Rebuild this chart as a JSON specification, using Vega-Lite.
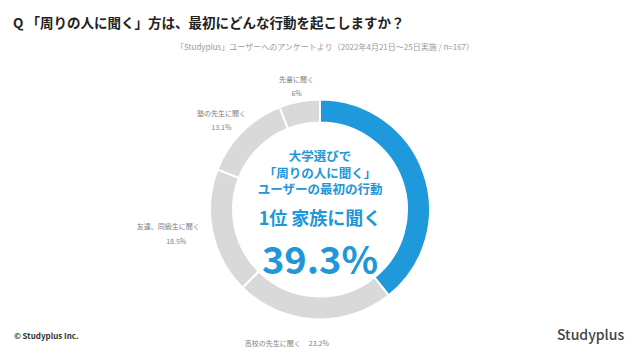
{
  "$schema": "https://vega.github.io/schema/vega-lite/v6.json",
  "width": 640,
  "height": 301,
  "autosize": {"type": "none"},
  "padding": {"top": 59, "left": 0, "right": 0, "bottom": 0},
  "background": "white",
  "config": {"view": {"stroke": null}, "font": "Noto Sans CJK JP", "text": {"font": "Noto Sans CJK JP"}},
  "title": {
    "text": "Q 「周りの人に聞く」方は、最初にどんな行動を起こしますか？",
    "anchor": "start",
    "frame": "group",
    "dx": 13,
    "fontSize": 13.5,
    "fontWeight": "bold",
    "color": "#222222",
    "offset": 13,
    "font": "Noto Sans CJK JP"
  },
  "data": {
    "values": [
      {"name": "家族に聞く", "value": 39.3, "pctLabel": "39.3%", "order": 1},
      {"name": "高校の先生に聞く", "value": 23.2, "pctLabel": "23.2%", "order": 2},
      {"name": "友達、同級生に聞く", "value": 18.5, "pctLabel": "18.5%", "order": 3},
      {"name": "塾の先生に聞く", "value": 13.1, "pctLabel": "13.1%", "order": 4},
      {"name": "先輩に聞く", "value": 6, "pctLabel": "6%", "order": 5}
    ]
  },
  "layer": [
    {
      "mark": {"type": "arc", "outerRadius": 110, "innerRadius": 87, "stroke": "white", "strokeWidth": 2},
      "encoding": {
        "theta": {"field": "value", "type": "quantitative", "stack": true},
        "order": {"field": "order", "type": "quantitative", "sort": "ascending"},
        "color": {
          "field": "name", "type": "nominal", "legend": null,
          "scale": {
            "domain": ["家族に聞く", "高校の先生に聞く", "友達、同級生に聞く", "塾の先生に聞く", "先輩に聞く"],
            "range": ["#1f98dc", "#d9d9d9", "#d9d9d9", "#d9d9d9", "#d9d9d9"]
          }
        }
      }
    },
    {
      "mark": {"type": "text", "radius": 125, "dy": -7, "fontSize": 7, "color": "#808080"},
      "encoding": {
        "theta": {"field": "value", "type": "quantitative", "stack": true},
        "order": {"field": "order", "type": "quantitative", "sort": "ascending"},
        "text": {"condition": {"test": "datum.order == 5", "field": "name"}, "value": ""}
      }
    },
    {
      "mark": {"type": "text", "radius": 125, "dy": 7, "fontSize": 7, "color": "#808080"},
      "encoding": {
        "theta": {"field": "value", "type": "quantitative", "stack": true},
        "order": {"field": "order", "type": "quantitative", "sort": "ascending"},
        "text": {"condition": {"test": "datum.order == 5", "field": "pctLabel"}, "value": ""}
      }
    },
    {
      "mark": {"type": "text", "radius": 125, "dx": -10, "dy": -7, "fontSize": 7, "color": "#808080"},
      "encoding": {
        "theta": {"field": "value", "type": "quantitative", "stack": true},
        "order": {"field": "order", "type": "quantitative", "sort": "ascending"},
        "text": {"condition": {"test": "datum.order == 4", "field": "name"}, "value": ""}
      }
    },
    {
      "mark": {"type": "text", "radius": 125, "dx": -10, "dy": 7, "fontSize": 7, "color": "#808080"},
      "encoding": {
        "theta": {"field": "value", "type": "quantitative", "stack": true},
        "order": {"field": "order", "type": "quantitative", "sort": "ascending"},
        "text": {"condition": {"test": "datum.order == 4", "field": "pctLabel"}, "value": ""}
      }
    },
    {
      "mark": {"type": "text", "radius": 150, "dx": -5, "dy": -14, "fontSize": 7, "color": "#808080"},
      "encoding": {
        "theta": {"field": "value", "type": "quantitative", "stack": true},
        "order": {"field": "order", "type": "quantitative", "sort": "ascending"},
        "text": {"condition": {"test": "datum.order == 3", "field": "name"}, "value": ""}
      }
    },
    {
      "mark": {"type": "text", "radius": 150, "dx": 3, "dy": 1, "fontSize": 7, "color": "#808080"},
      "encoding": {
        "theta": {"field": "value", "type": "quantitative", "stack": true},
        "order": {"field": "order", "type": "quantitative", "sort": "ascending"},
        "text": {"condition": {"test": "datum.order == 3", "field": "pctLabel"}, "value": ""}
      }
    },
    {
      "mark": {"type": "text", "radius": 135, "align": "right", "dx": -12, "fontSize": 7, "color": "#808080"},
      "encoding": {
        "theta": {"field": "value", "type": "quantitative", "stack": true},
        "order": {"field": "order", "type": "quantitative", "sort": "ascending"},
        "text": {"condition": {"test": "datum.order == 2", "field": "name"}, "value": ""}
      }
    },
    {
      "mark": {"type": "text", "radius": 135, "align": "left", "dx": -4, "fontSize": 7, "color": "#808080"},
      "encoding": {
        "theta": {"field": "value", "type": "quantitative", "stack": true},
        "order": {"field": "order", "type": "quantitative", "sort": "ascending"},
        "text": {"condition": {"test": "datum.order == 2", "field": "pctLabel"}, "value": ""}
      }
    },
    {
      "data": {"values": [{"t": "大学選びで"}]},
      "mark": {"type": "text", "dy": -52.5, "fontSize": 12.5, "fontWeight": "bold", "color": "#2196d9"},
      "encoding": {"text": {"field": "t", "type": "nominal"}}
    },
    {
      "data": {"values": [{"t": "「周りの人に聞く」"}]},
      "mark": {"type": "text", "dy": -36, "fontSize": 12.5, "fontWeight": "bold", "color": "#2196d9"},
      "encoding": {"text": {"field": "t", "type": "nominal"}}
    },
    {
      "data": {"values": [{"t": "ユーザーの最初の行動"}]},
      "mark": {"type": "text", "dy": -19.5, "fontSize": 12.5, "fontWeight": "bold", "color": "#2196d9"},
      "encoding": {"text": {"field": "t", "type": "nominal"}}
    },
    {
      "data": {"values": [{"t": "1位 家族に聞く"}]},
      "mark": {"type": "text", "dy": 10, "fontSize": 18, "fontWeight": "bold", "color": "#2196d9"},
      "encoding": {"text": {"field": "t", "type": "nominal"}}
    },
    {
      "data": {"values": [{"t": "39.3%"}]},
      "mark": {"type": "text", "dy": 53, "fontSize": 38, "fontWeight": "bold", "color": "#2196d9"},
      "encoding": {"text": {"field": "t", "type": "nominal"}}
    },
    {
      "data": {"values": [{"t": "「Studyplus」ユーザーへのアンケートより（2022年4月21日〜25日実施 / n=167）"}]},
      "mark": {"type": "text", "dy": -162, "dx": 5, "fontSize": 8, "color": "#9a9a9a"},
      "encoding": {"text": {"field": "t", "type": "nominal"}}
    },
    {
      "data": {"values": [{"t": "© Studyplus Inc."}]},
      "mark": {"type": "text", "align": "left", "dx": -306, "dy": 127, "fontSize": 8, "fontWeight": "bold", "color": "#333333"},
      "encoding": {"text": {"field": "t", "type": "nominal"}}
    },
    {
      "data": {"values": [{"t": "Studyplus"}]},
      "mark": {"type": "text", "align": "left", "dx": 237, "dy": 126, "fontSize": 14, "fontWeight": 500, "color": "#444444"},
      "encoding": {"text": {"field": "t", "type": "nominal"}}
    }
  ]
}
